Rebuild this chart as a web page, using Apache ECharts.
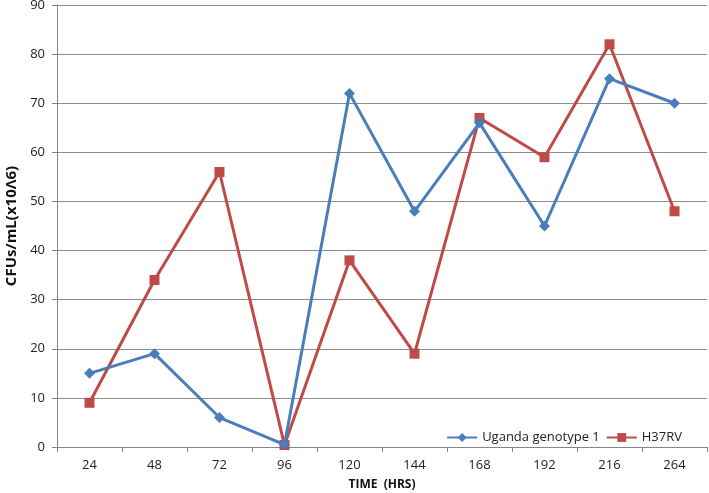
<!DOCTYPE html>
<html><head><meta charset="utf-8">
<script src="https://cdn.jsdelivr.net/npm/echarts@6/dist/echarts.min.js"></script>
<style>html,body{margin:0;padding:0;background:#fff}#c{width:709px;height:493px}</style>
</head><body><div id="c"></div>
<script>
const categories = ['24','48','72','96','120','144','168','192','216','264'];
const uganda = [15, 19, 6, 0.5, 72, 48, 66, 45, 75, 70];
const h37rv = [9, 34, 56, 0.4, 38, 19, 67, 59, 82, 48];
const yTicks = {min: 0, max: 90, interval: 10};

const chart = echarts.init(document.getElementById('c'));
const font = '"Open Sans", "Liberation Sans", sans-serif';
chart.setOption({
  animation: false,
  grid: {left: 57, top: 5, width: 650, height: 442, containLabel: false, outerBoundsMode: 'none'},
  legend: {
    right: 22, top: 426, itemWidth: 30, itemHeight: 11, itemGap: 6,
    textStyle: {fontFamily: font, fontSize: 13, color: '#222'},
    data: ['Uganda genotype 1', 'H37RV']
  },
  xAxis: {
    type: 'category', data: categories, boundaryGap: true,
    name: 'TIME  (HRS)', nameLocation: 'middle', nameGap: 32,
    nameTextStyle: {fontFamily: font, fontSize: 12, fontWeight: 'bold', color: '#111'},
    axisLine: {lineStyle: {color: '#868686', width: 1}},
    axisTick: {show: true, alignWithLabel: false, length: 5, lineStyle: {color: '#868686'}},
    axisLabel: {fontFamily: font, fontSize: 13, color: '#222', margin: 12},
    splitLine: {show: false}
  },
  yAxis: {
    type: 'value', min: yTicks.min, max: yTicks.max, interval: yTicks.interval,
    name: 'CFUs/mL(x10Λ6)', nameLocation: 'middle', nameGap: 38,
    nameTextStyle: {fontFamily: font, fontSize: 15, fontWeight: 'bold', color: '#111'},
    axisLine: {show: true, lineStyle: {color: '#868686', width: 1}},
    axisTick: {show: true, length: 5, lineStyle: {color: '#868686'}},
    axisLabel: {fontFamily: font, fontSize: 13, color: '#222', margin: 12},
    splitLine: {show: true, lineStyle: {color: '#8c8c8c', width: 1}}
  },
  series: [
    {
      name: 'Uganda genotype 1', type: 'line', data: uganda,
      symbol: 'diamond', symbolSize: 11,
      lineStyle: {color: '#4A7EBB', width: 3},
      itemStyle: {color: '#4A7EBB'}, z: 3
    },
    {
      name: 'H37RV', type: 'line', data: h37rv,
      symbol: 'rect', symbolSize: 10,
      lineStyle: {color: '#BE4B48', width: 3},
      itemStyle: {color: '#BE4B48'}, z: 2
    }
  ]
});
</script></body></html>
